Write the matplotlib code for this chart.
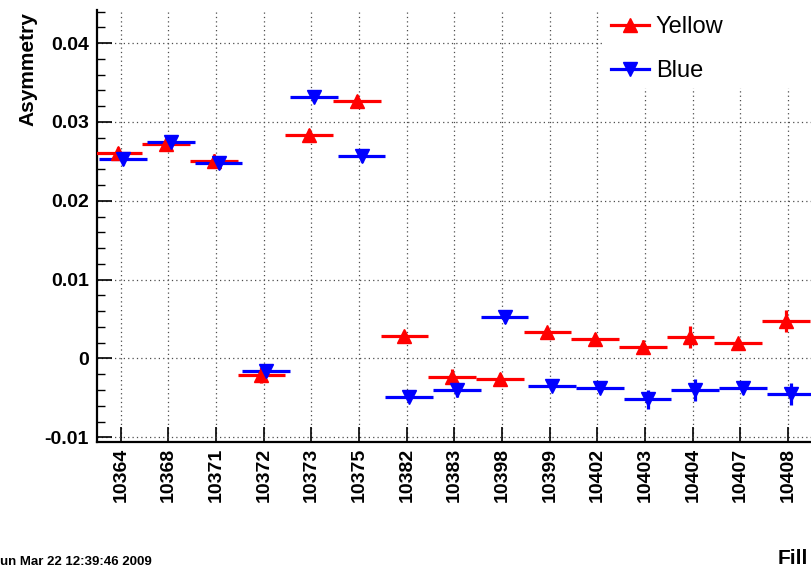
import numpy as np
import matplotlib
matplotlib.use('Agg')
import matplotlib.pyplot as plt
from matplotlib.lines import Line2D

plt.rcParams['font.family'] = ['Liberation Sans', 'DejaVu Sans']

# fill numbers on the x axis
fills = ['10364', '10368', '10371', '10372', '10373', '10375', '10382', '10383',
         '10398', '10399', '10402', '10403', '10404', '10407', '10408']

yellow = [0.0260, 0.0272, 0.0251, -0.0021, 0.0283, 0.0327, 0.0029, -0.0023,
          -0.0026, 0.0033, 0.0025, 0.0015, 0.0027, 0.0019, 0.0047]
yellow_err = [0.0008, 0.0008, 0.0008, 0.0010, 0.0008, 0.0007, 0.0006, 0.0010,
              0.0008, 0.0006, 0.0007, 0.0008, 0.0014, 0.0006, 0.0014]

blue = [0.0253, 0.0274, 0.0248, -0.0016, 0.0332, 0.0257, -0.0049, -0.0040,
        0.0053, -0.0035, -0.0037, -0.0052, -0.0040, -0.0037, -0.0045]
blue_err = [0.0008, 0.0007, 0.0008, 0.0008, 0.0006, 0.0008, 0.0006, 0.0009,
            0.0008, 0.0006, 0.0006, 0.0012, 0.0014, 0.0008, 0.0014]

yticks = [-0.01, 0.0, 0.01, 0.02, 0.03, 0.04]
ytick_labels = ['-0.01', '0', '0.01', '0.02', '0.03', '0.04']

W, H = 812, 571
fig = plt.figure(figsize=(W / 100, H / 100), dpi=100)
ax = fig.add_axes([97 / W, 1 - 442 / H, 1 - 97 / W, (442 - 10) / H])

x = np.arange(len(fills))
ax.errorbar(x - 0.05, yellow, xerr=0.5, yerr=yellow_err, fmt='^', color='#ff0000',
            ms=9.5, elinewidth=2.3, capsize=0, zorder=3)
ax.errorbar(x + 0.05, blue, xerr=0.5, yerr=blue_err, fmt='v', color='#0000ff',
            ms=9.5, elinewidth=2.3, capsize=0, zorder=3)

ax.set_xlim(-0.5, len(fills) - 0.5)
ax.set_ylim(-0.0106, 0.0442)
ax.set_xticks(x)
ax.set_xticklabels(fills, rotation=90, fontsize=14, fontweight='bold', va='top')
ax.set_yticks(yticks)
ax.set_yticklabels(ytick_labels, fontsize=14, fontweight='bold')
ax.set_yticks(np.arange(-0.010, 0.0441, 0.002), minor=True)

ax.tick_params(axis='both', which='major', direction='in', length=11, width=1.2)
ax.tick_params(axis='y', which='minor', direction='in', length=6, width=1)
ax.tick_params(axis='y', which='major', pad=6)
ax.tick_params(axis='x', which='major', pad=4)

for s in ['top', 'right']:
    ax.spines[s].set_visible(False)
for s in ['left', 'bottom']:
    ax.spines[s].set_linewidth(1.6)

ax.set_axisbelow(True)
ax.grid(True, which='major', color='0.3', linestyle=(0, (1, 2.5)), linewidth=0.9)

handles = [Line2D([], [], color='#ff0000', marker='^', ms=9.5, lw=2.3),
           Line2D([], [], color='#0000ff', marker='v', ms=9.5, lw=2.3)]
fig.legend(handles, ['Yellow', 'Blue'], loc='upper left', mode='expand',
           bbox_to_anchor=(605 / W, 1 - 92 / H, 207 / W, 82 / H),
           fontsize=17, frameon=True, facecolor='white', edgecolor='none',
           framealpha=1, fancybox=False, borderpad=0.25, borderaxespad=0,
           handlelength=1.6, handletextpad=0.3, labelspacing=0.95, numpoints=1)

fig.text(28 / W, 1 - 12 / H, 'Asymmetry', rotation=90, ha='center', va='top',
         fontsize=15, fontweight='bold')
fig.text(808 / W, 1 - 559 / H, 'Fill', ha='right', va='center',
         fontsize=15, fontweight='bold')
fig.text(0, 1 - 562 / H, 'un Mar 22 12:39:46 2009', ha='left', va='center',
         fontsize=9.5, fontweight='bold')

fig.savefig('out.png', dpi=100)
